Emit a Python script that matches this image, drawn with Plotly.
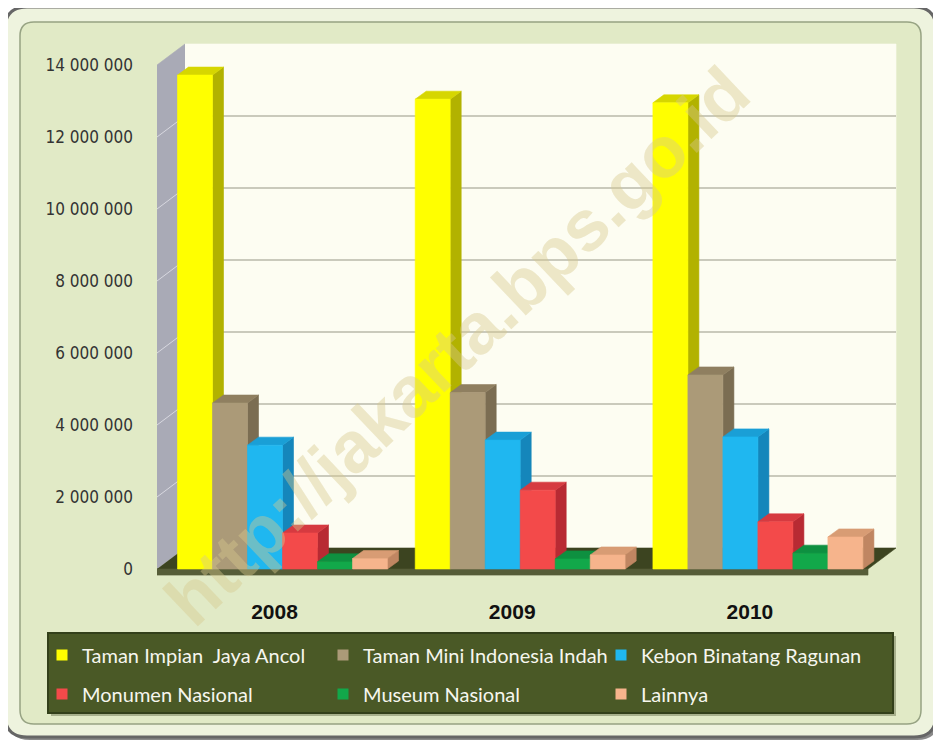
import plotly.graph_objects as go

# ---------------- data ----------------
years = ["2008", "2009", "2010"]
series_names = ["Taman Impian  Jaya Ancol", "Taman Mini Indonesia Indah",
                "Kebon Binatang Ragunan", "Monumen Nasional",
                "Museum Nasional", "Lainnya"]
ancol = [13720000, 13050000, 12950000]
tmii = [4610000, 4900000, 5390000]
ragunan = [3440000, 3580000, 3670000]
monas = [1000000, 2190000, 1310000]
museum = [200000, 280000, 440000]
lainnya = [290000, 390000, 890000]
y_tick_values = [0, 2000000, 4000000, 6000000, 8000000, 10000000, 12000000, 14000000]
y_tick_labels = ["0", "2 000 000", "4 000 000", "6 000 000", "8 000 000",
                 "10 000 000", "12 000 000", "14 000 000"]

series_values = [ancol, tmii, ragunan, monas, museum, lainnya]
front_colors = ["#ffff00", "#ab9a78", "#1fb7f0", "#f34a4a", "#12a84a", "#f6b48c"]
side_colors = ["#b2b200", "#7b6d52", "#1586bb", "#b82a33", "#0b7a34", "#c08662"]
top_colors = ["#d6d600", "#8f7f60", "#1a9fd6", "#d63a40", "#0e9040", "#d89c74"]

# ---------------- geometry (page pixels; the page body adds an 8px margin) ----------------
OFF = 8
W, H = 941 - OFF, 740 - OFF
DOM_L, DOM_R, DOM_T, DOM_B = 150, 900, 43, 580      # plot area in page pixels
ML, MR, MT, MB = DOM_L - OFF, W - (DOM_R - OFF), DOM_T - OFF, H - (DOM_B - OFF)
PX_PER_UNIT = 237.7
PX_PER_M = 36.0 / 1e6
X0_PX = 282.5
Y0_PX = 569.0
x_range = [(DOM_L - X0_PX) / PX_PER_UNIT, (DOM_R - X0_PX) / PX_PER_UNIT]
y_range = [-(DOM_B - Y0_PX) / PX_PER_M, (Y0_PX - DOM_T) / PX_PER_M]

bar_w = 35 / PX_PER_UNIT
bdx = 11 / PX_PER_UNIT
bdy = 8 / PX_PER_M
xL, xR = (157 - X0_PX) / PX_PER_UNIT, (868 - X0_PX) / PX_PER_UNIT
wdx = 28 / PX_PER_UNIT
wdy = 21 / PX_PER_M
wall_top = y_tick_values[-1]
label_shift = 8 / PX_PER_UNIT

dom_w = DOM_R - DOM_L
dom_h = DOM_B - DOM_T


def pxx(p):
    return (p - DOM_L) / dom_w


def pxy(p):
    return (DOM_B - p) / dom_h


def rounded(x0, y0, x1, y1, r):
    rx, ry = r / dom_w, r / dom_h
    a, b, c, d = pxx(x0), pxx(x1), pxy(y0), pxy(y1)  # c top, d bottom
    return (f"M{a+rx},{c} L{b-rx},{c} Q{b},{c} {b},{c-ry} L{b},{d+ry} "
            f"Q{b},{d} {b-rx},{d} L{a+rx},{d} Q{a},{d} {a},{d+ry} "
            f"L{a},{c-ry} Q{a},{c} {a+rx},{c} Z")


fig = go.Figure()


def poly(xs, ys, color):
    fig.add_trace(go.Scatter(x=xs, y=ys, mode="lines", fill="toself",
                             fillcolor=color, line=dict(color=color, width=0.6),
                             hoverinfo="skip", showlegend=False))


# walls and floor
poly([xL, xL + wdx, xL + wdx, xL], [0, wdy, wall_top + wdy, wall_top], "#a9aab6")
poly([xL + wdx, xR + wdx, xR + wdx, xL + wdx],
     [wdy, wdy, wall_top + wdy, wall_top + wdy], "#fdfdf2")
gx, gy, sx, sy = [], [], [], []
for v in y_tick_values[1:-1]:
    gx += [xL + wdx, xR + wdx, None]
    gy += [v + wdy, v + wdy, None]
    sx += [xL, xL + wdx, None]
    sy += [v, v + wdy, None]
fig.add_trace(go.Scatter(x=gx, y=gy, mode="lines", line=dict(color="#b9b9aa", width=1.6),
                         hoverinfo="skip", showlegend=False))
fig.add_trace(go.Scatter(x=sx, y=sy, mode="lines", line=dict(color="#d8d8e0", width=1),
                         hoverinfo="skip", showlegend=False))
poly([xL, xR, xR + wdx, xL + wdx], [0, 0, wdy, wdy], "#3c4420")
poly([xL, xR, xR, xL], [0, 0, -0.17e6, -0.17e6], "#565d38")

# bars (3D boxes)
for i, vals in enumerate(series_values):
    fx, fy, sdx, sdy, tx, ty = [], [], [], [], [], []
    for g, v in enumerate(vals):
        xc = g + (i - 2.5) * bar_w
        a, b = xc - bar_w / 2, xc + bar_w / 2
        fx += [a, b, b, a, a, None]
        fy += [0, 0, v, v, 0, None]
        sdx += [b, b + bdx, b + bdx, b, b, None]
        sdy += [0, bdy, v + bdy, v, 0, None]
        tx += [a, b, b + bdx, a + bdx, a, None]
        ty += [v, v, v + bdy, v + bdy, v, None]
    poly(sdx, sdy, side_colors[i])
    poly(tx, ty, top_colors[i])
    poly(fx, fy, front_colors[i])

# legend entries: one legend per entry, laid out in a 3 x 2 grid
legend_names = ["legend", "legend2", "legend3", "legend4", "legend5", "legend6"]
legend_x_px = [42, 323, 601]        # page pixels of each legend's left edge
legend_y_px = [655, 694]            # page pixels of each row centre
legend_font = dict(family="Lato, 'Open Sans', sans-serif", size=20, color="#f6f6ee")
legend_layouts = {}
for i, nm in enumerate(series_names):
    fig.add_trace(go.Scatter(x=[None], y=[None], mode="markers", name=nm,
                             marker=dict(symbol="square", size=11, color=front_colors[i]),
                             legend=legend_names[i]))
    legend_layouts[legend_names[i]] = dict(
        orientation="h", xref="container", yref="container",
        x=(legend_x_px[i % 3] - OFF) / W, y=1 - (legend_y_px[i // 3] - OFF) / H,
        xanchor="left", yanchor="middle", bgcolor="rgba(0,0,0,0)",
        font=legend_font, itemclick=False, itemdoubleclick=False)

shapes = [
    dict(type="path", path=rounded(8, 10, 939, 740, 22), xref="paper", yref="paper",
         fillcolor="#8a8a8a", line=dict(width=0), layer="below"),
    dict(type="path", path=rounded(5, 7, 936, 737, 22), xref="paper", yref="paper",
         fillcolor="#eef3de", line=dict(color="#666666", width=3), layer="below"),
    dict(type="path", path=rounded(20, 22, 921, 724, 14), xref="paper", yref="paper",
         fillcolor="#e1eac6", line=dict(color="#97a383", width=1.5), layer="below"),
    dict(type="rect", x0=pxx(51), x1=pxx(896), y0=pxy(636), y1=pxy(716), xref="paper",
         yref="paper", fillcolor="#a7b08c", line=dict(width=0), layer="below"),
    dict(type="rect", x0=pxx(48), x1=pxx(893), y0=pxy(633), y1=pxy(713), xref="paper",
         yref="paper", fillcolor="#4a5926", line=dict(color="#33401a", width=2), layer="below"),
]

fig.update_layout(
    width=W, height=H,
    margin=dict(l=ML, r=MR, t=MT, b=MB, pad=0, autoexpand=False),
    paper_bgcolor="white", plot_bgcolor="rgba(0,0,0,0)",
    shapes=shapes,
    xaxis=dict(range=x_range, tickvals=[g - label_shift for g in range(len(years))],
               ticktext=years, showgrid=False, automargin=False,
               zeroline=False, showline=False, ticks="", ticklabelstandoff=17,
               tickfont=dict(family="Liberation Sans, Arial, sans-serif", size=21,
                             color="#111111", weight="bold")),
    yaxis=dict(range=y_range, tickvals=y_tick_values, ticktext=y_tick_labels,
               showgrid=False, zeroline=False, showline=False, ticks="",
               ticklabelstandoff=16, automargin=False,
               tickfont=dict(family="'Liberation Sans Narrow', 'DejaVu Sans Condensed', sans-serif",
                             size=17, color="#333333")),
    annotations=[dict(text="<b>http://jakarta.bps.go.id</b>", xref="paper", yref="paper",
                      x=pxx(457), y=pxy(346), showarrow=False, textangle=-43.5,
                      font=dict(family="Liberation Sans, Arial, sans-serif", size=72,
                                color="rgba(215,200,140,0.42)"))],
    **legend_layouts,
)

fig.write_html("out.html")
